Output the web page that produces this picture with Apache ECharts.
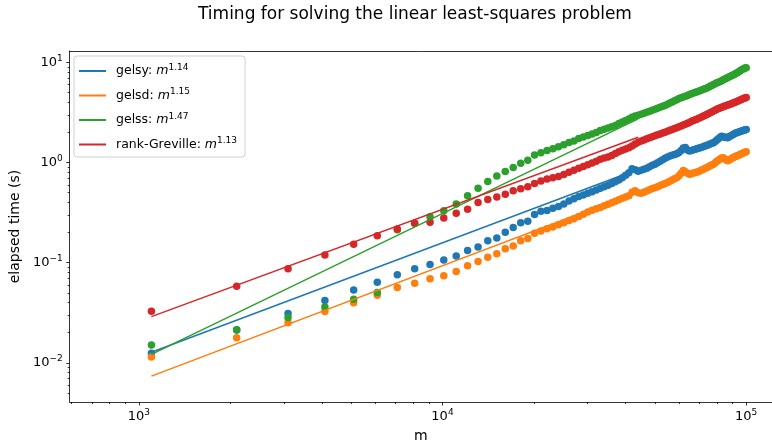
<!DOCTYPE html>
<html>
<head>
  <meta charset="utf-8">
  <title>Timing for solving the linear least-squares problem</title>
  <script src="https://cdn.jsdelivr.net/npm/echarts@6/dist/echarts.min.js"></script>
  <style>
    html, body { margin: 0; padding: 0; background: #fff; }
    #chart { width: 772px; height: 448px; }
  </style>
</head>
<body>
  <div id="chart"></div>
  <script>
    // problem sizes m
    const mValues = [1100, 2100, 3100, 4100, 5100, 6100, 7100, 8100, 9100, 10100,
      11100, 12100, 13100, 14100, 15100, 16100, 17100, 18100, 19100, 20100,
      21100, 22100, 23100, 24100, 25100, 26100, 27100, 28100, 29100, 30100,
      31100, 32100, 33100, 34100, 35100, 36100, 37100, 38100, 39100, 40100,
      41100, 42100, 43100, 44100, 45100, 46100, 47100, 48100, 49100, 50100,
      51100, 52100, 53100, 54100, 55100, 56100, 57100, 58100, 59100, 60100,
      61100, 62100, 63100, 64100, 65100, 66100, 67100, 68100, 69100, 70100,
      71100, 72100, 73100, 74100, 75100, 76100, 77100, 78100, 79100, 80100,
      81100, 82100, 83100, 84100, 85100, 86100, 87100, 88100, 89100, 90100,
      91100, 92100, 93100, 94100, 95100, 96100, 97100, 98100, 99100, 100100];

    // elapsed time (s)
    const gelsyTimes = [0.0124, 0.0212, 0.0310, 0.0417, 0.0532, 0.0633, 0.0755, 0.0866, 0.0955, 0.106,
      0.116, 0.132, 0.143, 0.165, 0.176, 0.200, 0.223, 0.250, 0.258, 0.301,
      0.324, 0.330, 0.349, 0.362, 0.383, 0.412, 0.434, 0.455, 0.473, 0.490,
      0.508, 0.530, 0.552, 0.572, 0.592, 0.614, 0.640, 0.667, 0.701, 0.743,
      0.787, 0.862, 0.843, 0.814, 0.833, 0.852, 0.872, 0.902, 0.934, 0.960,
      0.991, 1.028, 1.064, 1.099, 1.134, 1.155, 1.177, 1.197, 1.219, 1.256,
      1.315, 1.393, 1.409, 1.331, 1.300, 1.315, 1.337, 1.355, 1.377, 1.393,
      1.409, 1.432, 1.455, 1.475, 1.499, 1.523, 1.548, 1.569, 1.617, 1.668,
      1.722, 1.779, 1.825, 1.800, 1.779, 1.767, 1.758, 1.808, 1.846, 1.880,
      1.919, 1.954, 1.972, 1.995, 2.018, 2.041, 2.064, 2.088, 2.107, 2.127];

    const gelsdTimes = [0.0114, 0.0177, 0.0250, 0.0324, 0.0395, 0.0470, 0.0561, 0.0619, 0.0689, 0.0738,
      0.0814, 0.0927, 0.102, 0.113, 0.122, 0.137, 0.146, 0.165, 0.174, 0.196,
      0.206, 0.217, 0.226, 0.238, 0.250, 0.262, 0.274, 0.288, 0.303, 0.319,
      0.333, 0.344, 0.355, 0.368, 0.381, 0.394, 0.408, 0.423, 0.437, 0.451,
      0.465, 0.504, 0.521, 0.498, 0.492, 0.504, 0.518, 0.532, 0.547, 0.558,
      0.572, 0.587, 0.602, 0.616, 0.630, 0.648, 0.666, 0.684, 0.703, 0.734,
      0.778, 0.830, 0.805, 0.778, 0.760, 0.771, 0.782, 0.792, 0.803, 0.814,
      0.833, 0.850, 0.868, 0.885, 0.904, 0.923, 0.940, 0.955, 0.991, 1.023,
      1.052, 1.083, 1.106, 1.114, 1.083, 1.054, 1.040, 1.059, 1.083, 1.106,
      1.127, 1.142, 1.155, 1.174, 1.192, 1.212, 1.228, 1.245, 1.260, 1.274];

    const gelssTimes = [0.0150, 0.0213, 0.0282, 0.0360, 0.0430, 0.0500, 0.212, 0.246, 0.286, 0.328,
      0.383, 0.463, 0.552, 0.644, 0.731, 0.809, 0.886, 0.977, 1.047, 1.187,
      1.248, 1.316, 1.368, 1.432, 1.499, 1.580, 1.638, 1.731, 1.795, 1.859,
      1.923, 1.986, 2.078, 2.137, 2.202, 2.269, 2.339, 2.444, 2.535, 2.624,
      2.716, 2.818, 2.911, 2.958, 3.018, 3.089, 3.171, 3.245, 3.321, 3.398,
      3.477, 3.550, 3.632, 3.707, 3.802, 3.916, 4.016, 4.128, 4.224, 4.342,
      4.421, 4.500, 4.584, 4.667, 4.764, 4.843, 4.921, 5.003, 5.083, 5.168,
      5.248, 5.333, 5.420, 5.508, 5.636, 5.750, 5.861, 5.984, 6.095, 6.223,
      6.324, 6.427, 6.547, 6.668, 6.792, 6.902, 7.031, 7.145, 7.278, 7.396,
      7.516, 7.656, 7.798, 7.962, 8.128, 8.299, 8.473, 8.617, 8.737, 8.834];

    const grevilleTimes = [0.0326, 0.0578, 0.0865, 0.119, 0.152, 0.185, 0.216, 0.246, 0.252, 0.278,
      0.310, 0.341, 0.398, 0.425, 0.452, 0.481, 0.519, 0.546, 0.569, 0.614,
      0.652, 0.681, 0.702, 0.723, 0.756, 0.796, 0.833, 0.872, 0.910, 0.949,
      0.986, 1.028, 1.071, 1.104, 1.134, 1.174, 1.223, 1.274, 1.319, 1.359,
      1.400, 1.458, 1.523, 1.587, 1.638, 1.675, 1.718, 1.758, 1.800, 1.846,
      1.884, 1.923, 1.963, 2.000, 2.042, 2.089, 2.132, 2.177, 2.222, 2.268,
      2.314, 2.357, 2.405, 2.455, 2.506, 2.571, 2.612, 2.668, 2.716, 2.773,
      2.824, 2.883, 2.943, 2.998, 3.060, 3.124, 3.188, 3.255, 3.323, 3.392,
      3.454, 3.500, 3.548, 3.597, 3.646, 3.688, 3.739, 3.791, 3.834, 3.887,
      3.941, 3.995, 4.051, 4.107, 4.165, 4.223, 4.282, 4.341, 4.391, 4.441];

    // power-law fits (end points)
    const fitM = [1100, 44100];
    const fitGelsy = [0.0127, 0.852];
    const fitGelsd = [0.00733, 0.511];
    const fitGelss = [0.0121, 2.72];
    const fitGreville = [0.0288, 1.78];

    const seriesNames = ['gelsy', 'gelsd', 'gelss', 'rank-Greville'];
    const fitExponents = ['1.14', '1.15', '1.47', '1.13'];
    const colors = ['#1f77b4', '#ff7f0e', '#2ca02c', '#d62728'];

    // tick values
    const xMajorTicks = [1000, 10000, 100000];
    const xMinorTicks = [600, 700, 800, 900, 2000, 3000, 4000, 5000, 6000, 7000, 8000, 9000,
      20000, 30000, 40000, 50000, 60000, 70000, 80000, 90000];
    const yMajorTicks = [0.01, 0.1, 1, 10];
    const yMinorTicks = [0.005, 0.006, 0.007, 0.008, 0.009, 0.02, 0.03, 0.04, 0.05, 0.06, 0.07, 0.08, 0.09,
      0.2, 0.3, 0.4, 0.5, 0.6, 0.7, 0.8, 0.9, 2, 3, 4, 5, 6, 7, 8, 9];

    const X_MIN = 592, X_MAX = 121700;
    const Y_MIN = 0.00404, Y_MAX = 12.95;
    const FONT = 'DejaVu Sans';

    const chart = echarts.init(document.getElementById('chart'));

    function powLabel(v) {
      const e = Math.log10(v);
      if (Math.abs(e - Math.round(e)) > 1e-6) return '';
      const n = Math.round(e);
      return '{b|10}{e|' + (n < 0 ? '\u2212' + (-n) : n) + '}';
    }
    const labelRich = {
      b: { fontFamily: FONT, fontSize: 13, color: '#000' },
      e: { fontFamily: FONT, fontSize: 9, color: '#000', padding: [0, 0, 8, 0] }
    };

    function tickSeries(data, horizontal) {
      return {
        type: 'custom',
        clip: false,
        silent: true,
        z: 10,
        data: data,
        renderItem: function (params, api) {
          const p = api.coord([api.value(0), api.value(1)]);
          const len = api.value(2);
          const shape = horizontal
            ? { x1: Math.round(p[0]) + 0.5, y1: p[1], x2: Math.round(p[0]) + 0.5, y2: p[1] + len }
            : { x1: p[0] - len, y1: Math.round(p[1]) + 0.5, x2: p[0], y2: Math.round(p[1]) + 0.5 };
          return { type: 'line', shape: shape, style: { stroke: '#000', lineWidth: 0.8 } };
        }
      };
    }

    const xTickData = xMajorTicks.map(v => [v, Y_MIN, 3.5]).concat(xMinorTicks.map(v => [v, Y_MIN, 2]));
    const yTickData = yMajorTicks.map(v => [X_MIN, v, 3.5]).concat(yMinorTicks.map(v => [X_MIN, v, 2]));

    const timeSets = [gelsyTimes, gelsdTimes, gelssTimes, grevilleTimes];
    const fitSets = [fitGelsy, fitGelsd, fitGelss, fitGreville];

    const series = [];
    timeSets.forEach((times, i) => {
      series.push({
        name: seriesNames[i] + ' points',
        type: 'scatter',
        data: mValues.map((m, j) => [m, times[j]]),
        symbolSize: 7.5,
        itemStyle: { color: colors[i], opacity: 1 },
        z: 2
      });
    });
    fitSets.forEach((fit, i) => {
      series.push({
        name: seriesNames[i],
        type: 'line',
        data: fitM.map((m, j) => [m, fit[j]]),
        symbol: 'none',
        lineStyle: { color: colors[i], width: 1.5 },
        itemStyle: { color: colors[i] },
        z: 3
      });
    });
    series.push(tickSeries(xTickData, true));
    series.push(tickSeries(yTickData, false));

    const option = {
      animation: false,
      backgroundColor: '#fff',
      title: {
        text: 'Timing for solving the linear least-squares problem',
        left: 193,
        top: 1,
        textStyle: { fontFamily: FONT, fontSize: 17, fontWeight: 'normal', color: '#000' }
      },
      legend: {
        data: seriesNames,
        orient: 'vertical',
        left: 74,
        top: 56,
        padding: [7, 8, 6, 5],
        itemGap: 10,
        itemWidth: 27,
        itemHeight: 2,
        icon: 'rect',
        borderColor: '#d0d0d0',
        borderWidth: 1,
        borderRadius: 3,
        backgroundColor: '#fff',
        formatter: function (name) {
          const i = seriesNames.indexOf(name);
          return '{t|' + name + ': }{i|m}{s|' + fitExponents[i] + '}';
        },
        textStyle: {
          fontFamily: FONT,
          fontSize: 12.5,
          color: '#000',
          padding: [0, 0, 0, 5],
          rich: {
            t: { fontFamily: FONT, fontSize: 12.5, color: '#000' },
            i: { fontFamily: FONT, fontSize: 12.5, fontStyle: 'italic', color: '#000' },
            s: { fontFamily: FONT, fontSize: 9, color: '#000', padding: [0, 0, 7, 0] }
          }
        }
      },
      grid: { left: 68, right: 0, top: 51, bottom: 44, containLabel: false },
      xAxis: [{
        type: 'log',
        logBase: 10,
        min: X_MIN,
        max: X_MAX,
        name: 'm',
        nameLocation: 'middle',
        nameGap: 27,
        nameTextStyle: { fontFamily: FONT, fontSize: 14, color: '#000' },
        axisLine: { show: true, lineStyle: { color: '#000', width: 0.8 } },
        axisTick: { show: false },
        splitLine: { show: false },
        axisLabel: { margin: 6, formatter: powLabel, rich: labelRich, showMinLabel: false, showMaxLabel: false }
      }, {
        type: 'value',
        position: 'top',
        min: 0,
        max: 1,
        axisLine: { show: true, onZero: false, lineStyle: { color: '#000', width: 0.8 } },
        axisTick: { show: false },
        axisLabel: { show: false },
        splitLine: { show: false }
      }],
      yAxis: {
        type: 'log',
        logBase: 10,
        min: Y_MIN,
        max: Y_MAX,
        name: 'elapsed time (s)',
        nameLocation: 'middle',
        nameGap: 41,
        nameTextStyle: { fontFamily: FONT, fontSize: 14, color: '#000' },
        axisLine: { show: true, lineStyle: { color: '#000', width: 0.8 } },
        axisTick: { show: false },
        splitLine: { show: false },
        axisLabel: { margin: 7, formatter: powLabel, rich: labelRich, showMinLabel: false, showMaxLabel: false }
      },
      series: series
    };

    chart.setOption(option);
  </script>
</body>
</html>
